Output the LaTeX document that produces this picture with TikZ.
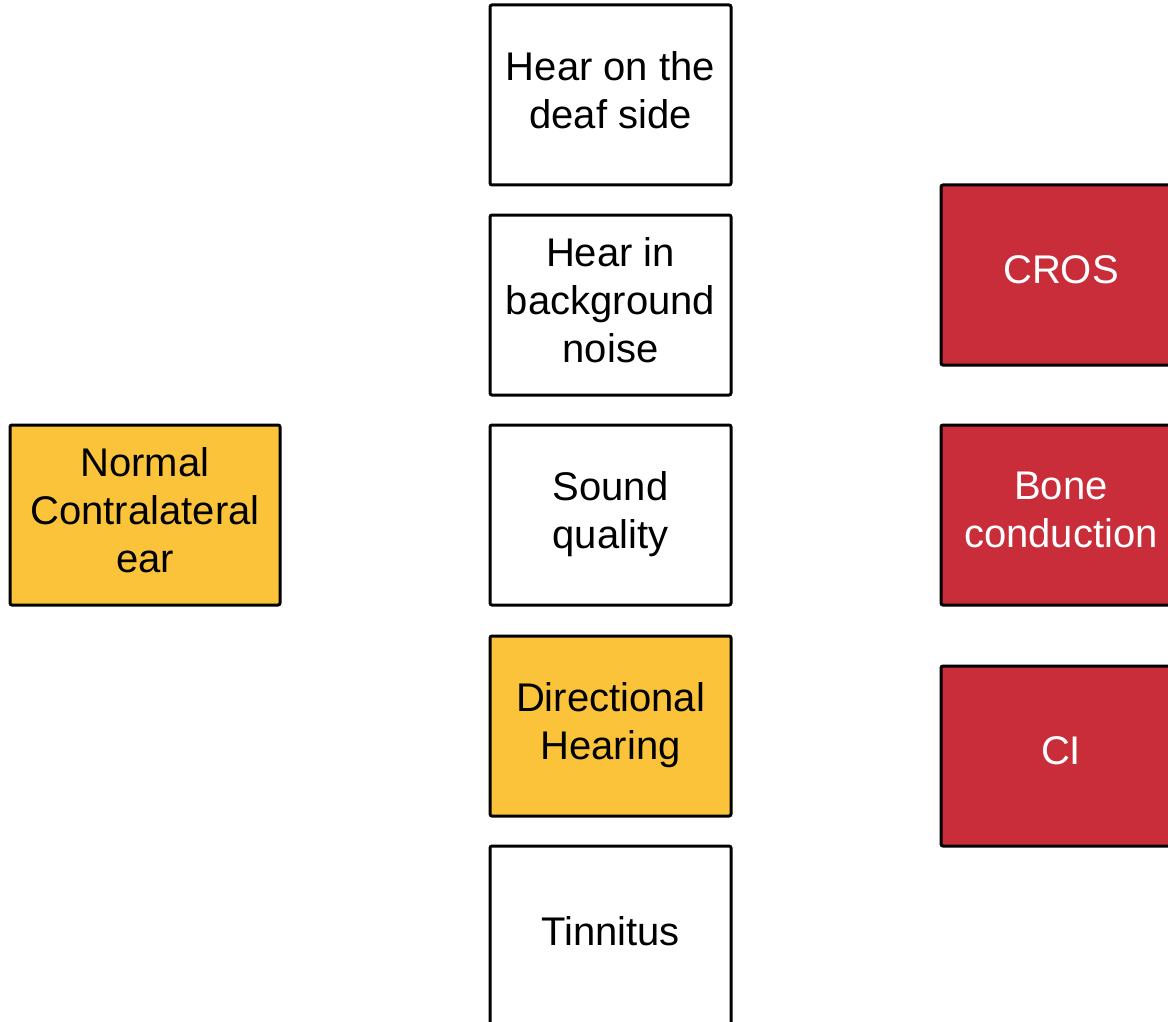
\documentclass[tikz,border=0pt]{standalone}
\usepackage{fontspec}
\setmainfont{Liberation Sans}
\usepackage{tikz}
\usetikzlibrary{positioning}
\definecolor{NormYellow}{RGB}{251,195,58}
\definecolor{AidRed}{RGB}{201,45,57}

\tikzset{
  box/.style={draw=black,line width=1.5pt,rounded corners=1pt,align=center,
    minimum width=120.5pt,minimum height=90pt,inner sep=0pt,text depth=5pt,
    font=\fontsize{20}{24}\selectfont},
  goal/.style={box,fill=white},
  good/.style={box,fill=NormYellow},
  aid/.style={box,fill=AidRed,text=white,minimum width=120pt}
}

\begin{document}
\begin{tikzpicture}[x=0.5pt,y=-0.5pt]
  \useasboundingbox (0,0) rectangle (1168,1022);
  % left
  \node[good,minimum width=135pt] (normal) at (145,515) {Normal\\Contralateral\\ear};
  % benefits
  \node[goal] (deaf)  at (610.5,95)  {Hear on the\\deaf side};
  \node[goal] (noise) at (610.5,305) {Hear in\\background\\noise};
  \node[goal] (sound) at (610.5,515) {Sound\\quality};
  \node[good] (dir)   at (610.5,726) {Directional\\Hearing};
  \node[goal] (tinn)  at (610.5,936) {Tinnitus};
  % devices
  \node[aid] (cros) at (1061,275) {CROS};
  \node[aid] (bone) at (1061,515) {Bone\\conduction};
  \node[aid] (ci)   at (1061,756) {CI};
\end{tikzpicture}
\end{document}
